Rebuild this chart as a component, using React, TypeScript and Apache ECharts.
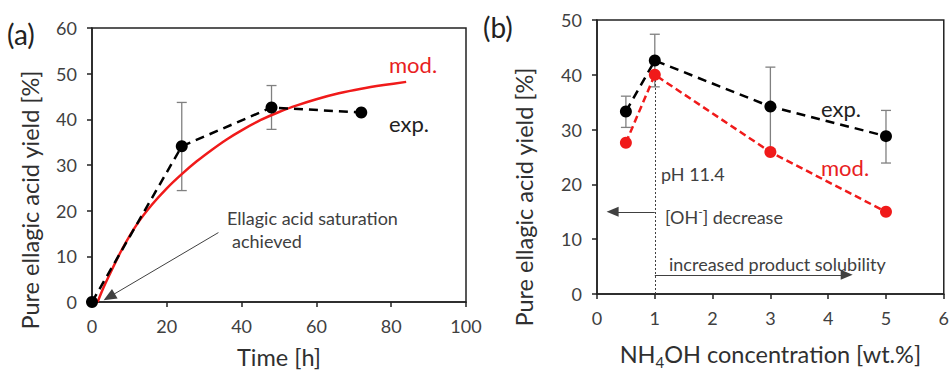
import React, { useEffect, useRef } from "react";
import * as echarts from "echarts";

// Panel (a): time course
const timeExp = [0, 24, 48, 72];
const yieldExp = [0, 34.1, 42.6, 41.5];
const errLowA = [null, 24.4, 37.8, null];
const errHighA = [null, 43.7, 47.4, null];
const timeMod = [1.5, 3, 5, 8, 12, 16, 20, 24, 28, 32, 36, 40, 45, 50, 55, 60, 66, 72, 78, 84];
const yieldMod = [0, 3, 6.5, 11.5, 17.0, 21.3, 24.9, 28.0, 30.8, 33.3, 35.6, 37.6, 39.8, 41.6, 43.1, 44.4, 45.7, 46.7, 47.5, 48.2];

// Panel (b): NH4OH concentration
const concB = [0.5, 1, 3, 5];
const expB = [33.3, 42.6, 34.2, 28.8];
const errLowB = [30.4, 37.8, 26.5, 23.9];
const errHighB = [36.1, 47.4, 41.4, 33.5];
const modB = [27.6, 40.0, 25.9, 15.0];

const FONT = "Lato";
const TXT = "#404040";

function errData(xs: number[], lo: (number | null)[], hi: (number | null)[]) {
  const out: number[][] = [];
  xs.forEach((x, i) => {
    if (lo[i] != null && hi[i] != null) out.push([x, lo[i] as number, hi[i] as number]);
  });
  return out;
}

function errSeries(data: number[][], idx: number) {
  return {
    type: "custom",
    xAxisIndex: idx,
    yAxisIndex: idx,
    z: 1,
    data,
    encode: { x: 0, y: [1, 2] },
    renderItem: (params: any, api: any) => {
      const x = api.value(0);
      const p1 = api.coord([x, api.value(1)]);
      const p2 = api.coord([x, api.value(2)]);
      const st = { stroke: "#808080", lineWidth: 1.3 };
      const c = 5;
      return {
        type: "group",
        children: [
          { type: "line", shape: { x1: p1[0], y1: p1[1], x2: p2[0], y2: p2[1] }, style: st },
          { type: "line", shape: { x1: p1[0] - c, y1: p1[1], x2: p1[0] + c, y2: p1[1] }, style: st },
          { type: "line", shape: { x1: p2[0] - c, y1: p2[1], x2: p2[0] + c, y2: p2[1] }, style: st },
        ],
      };
    },
  };
}

function axisCommon() {
  return {
    axisLine: { show: true, lineStyle: { color: "#222", width: 1.5 } },
    axisTick: { show: true, inside: false, length: 5, lineStyle: { color: "#222", width: 1.5 } },
    splitLine: { show: false },
    axisLabel: { color: TXT, fontFamily: FONT, fontSize: 18, margin: 15 },
    nameTextStyle: { color: "#303030", fontFamily: FONT, fontSize: 23.5 },
  };
}

function txt(x: number, y: number, text: string, color = TXT, size = 18, extra: any = {}) {
  return {
    type: "text",
    x,
    y,
    style: { text, fill: color, font: `${size}px ${FONT}`, textVerticalAlign: "middle", ...extra },
  };
}

function vtitle(x: number, y: number, text: string) {
  return {
    type: "text",
    x,
    y,
    rotation: Math.PI / 2,
    style: {
      text, fill: "#303030", font: `23.5px ${FONT}`,
      textAlign: "center", textVerticalAlign: "middle",
    },
  };
}

export default function App() {
  const ref = useRef<HTMLDivElement>(null);
  useEffect(() => {
    const chart = echarts.init(ref.current!, null, { renderer: "svg" });
    const option: any = {
      animation: false,
      backgroundColor: "#fff",
      grid: [
        { left: 92, top: 28, width: 374, height: 275, show: true, borderColor: "#222", borderWidth: 1.5 },
        { left: 597, top: 20, width: 351, height: 281, show: true, borderColor: "#222", borderWidth: 1.5 },
      ],
      xAxis: [
        {
          ...axisCommon(),
          type: "value", gridIndex: 0, min: 0, max: 100, interval: 20,
          name: "Time [h]", nameLocation: "middle", nameGap: 43,
        },
        {
          ...axisCommon(),
          type: "value", gridIndex: 1, min: 0, max: 6, interval: 1,
          name: "NH{sub|4}OH concentration [wt.%]", nameLocation: "middle", nameGap: 45,
          nameTextStyle: {
            color: "#303030", fontFamily: FONT, fontSize: 23.5, lineHeight: 30,
            rich: { sub: { fontSize: 15, fontFamily: FONT, color: "#303030", verticalAlign: "bottom", lineHeight: 30 } },
          },
        },
      ],
      yAxis: [
        {
          ...axisCommon(),
          type: "value", gridIndex: 0, min: 0, max: 60, interval: 10,
        },
        {
          ...axisCommon(),
          type: "value", gridIndex: 1, min: 0, max: 50, interval: 10,
        },
      ],
      series: [
        errSeries(errData(timeExp, errLowA, errHighA), 0),
        {
          type: "line", xAxisIndex: 0, yAxisIndex: 0, z: 3,
          data: timeMod.map((t, i) => [t, yieldMod[i]]),
          smooth: 0.3, showSymbol: false, symbol: "none",
          lineStyle: { color: "#f01a1a", width: 2.5 },
          markLine: {
            silent: true, symbol: ["none", "triangle"], symbolSize: [11, 13],
            label: { show: false },
            lineStyle: { color: "#404040", width: 1, type: "solid" },
            data: [[{ coord: [33.8, 15.2] }, { coord: [4.6, 1.1] }]],
          },
        },
        {
          type: "line", xAxisIndex: 0, yAxisIndex: 0, z: 4,
          data: timeExp.map((t, i) => [t, yieldExp[i]]),
          symbol: "circle", symbolSize: 12, showSymbol: true,
          itemStyle: { color: "#000" },
          lineStyle: { color: "#000", width: 2.5, type: [9, 6] },
        },
        errSeries(errData(concB, errLowB, errHighB), 1),
        {
          type: "line", xAxisIndex: 1, yAxisIndex: 1, z: 4,
          data: concB.map((c, i) => [c, expB[i]]),
          symbol: "circle", symbolSize: 12,
          itemStyle: { color: "#000" },
          lineStyle: { color: "#000", width: 2.5, type: [9, 6] },
          markLine: {
            silent: true, symbol: ["none", "triangle"], symbolSize: [10, 12],
            label: { show: false },
            lineStyle: { color: "#404040", width: 1, type: "solid" },
            data: [
              [{ coord: [1, 15] }, { coord: [0.27, 15] }],
              [{ coord: [1, 3.5] }, { coord: [4.32, 3.5] }],
            ],
          },
        },
        {
          type: "line", xAxisIndex: 1, yAxisIndex: 1, z: 5,
          data: concB.map((c, i) => [c, modB[i]]),
          symbol: "circle", symbolSize: 12,
          itemStyle: { color: "#f01a1a" },
          lineStyle: { color: "#f01a1a", width: 2.5, type: [7, 4] },
          markLine: {
            silent: true, symbol: ["none", "none"],
            label: { show: false },
            lineStyle: { color: "#404040", width: 1, type: [2, 2] },
            data: [[{ coord: [1, 0] }, { coord: [1, 40] }]],
          },
        },
      ],
      graphic: [
        vtitle(30, 200, "Pure ellagic acid yield [%]"),
        vtitle(524, 197, "Pure ellagic acid yield [%]"),
        txt(7, 34, "(a)", "#222", 28),
        txt(483, 27, "(b)", "#222", 28),
        txt(389, 64, "mod.", "#e8201e", 22),
        txt(389, 123, "exp.", "#222", 22),
        txt(227, 218, "Ellagic acid saturation"),
        txt(232, 241, "achieved"),
        txt(821, 108, "exp.", "#222", 22),
        txt(821, 167, "mod.", "#e8201e", 22),
        txt(661, 174, "pH 11.4"),
        {
          type: "text", x: 665, y: 217,
          style: {
            text: "[OH{sup|-}] decrease", fill: TXT, font: `18px ${FONT}`, textVerticalAlign: "middle",
            rich: { sup: { fontSize: 12, fontFamily: FONT, fill: TXT, verticalAlign: "top", lineHeight: 24 } },
          },
        },
        txt(669, 264, "increased product solubility"),
      ],
    };
    chart.setOption(option);
    return () => chart.dispose();
  }, []);
  return <div ref={ref} style={{ width: 952, height: 374, position: "absolute", left: 0, top: 0 }} />;
}
